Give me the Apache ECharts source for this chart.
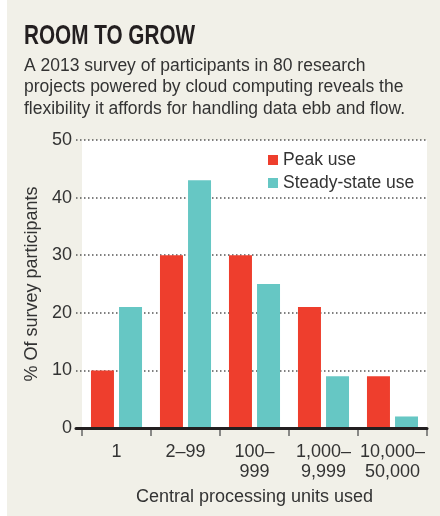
<!DOCTYPE html>
<html><head><meta charset="utf-8">
<script src="https://cdn.jsdelivr.net/npm/echarts@6/dist/echarts.min.js"></script>
<style>
html,body{margin:0;padding:0;background:#fff;}
#c{width:440px;height:516px;background:linear-gradient(to right,#fff 7px,#f1f0e8 7px);}
</style></head>
<body><div id="c"></div>
<script>
const categories = ['1', '2–99', '100–\n999', '1,000–\n9,999', '10,000–\n50,000'];
const peakUse = [10, 30, 30, 21, 9];
const steadyUse = [21, 43, 25, 9, 2];
const yTicks = [0, 10, 20, 30, 40, 50];
const titleText = 'ROOM TO GROW';
const subtitleText = 'A 2013 survey of participants in 80 research\nprojects powered by cloud computing reveals the\nflexibility it affords for handling data ebb and flow.';

const FONT = '"Liberation Sans", Arial, sans-serif';
const chart = echarts.init(document.getElementById('c'));
chart.setOption({
  backgroundColor: 'transparent',
  animation: false,
  textStyle: {fontFamily: FONT},
  graphic: [{
    type: 'text', left: 24, top: 22, scaleX: 0.74,
    style: {text: titleText, font: 'bold 28px "Liberation Sans", Arial, sans-serif', fill: '#231f20'}
  }],
  title: [{
    text: subtitleText,
    left: 19, top: 50,
    textStyle: {fontFamily: FONT, fontWeight: 'normal', fontSize: 17.5, color: '#333', lineHeight: 21.5}
  }],
  legend: {
    data: ['Peak use', 'Steady-state use'],
    orient: 'vertical', left: 263, top: 146,
    itemWidth: 10, itemHeight: 10, itemGap: 5, icon: 'rect',
    textStyle: {fontSize: 17.5, color: '#333', lineHeight: 17, fontFamily: FONT}
  },
  grid: [
    {left: 82, right: 13, top: 140, bottom: 88, show: true, backgroundColor: '#fff', borderWidth: 0},
    {left: 76, right: 13, top: 140, bottom: 88}
  ],
  xAxis: [
    {type: 'category', gridIndex: 0, data: categories,
     axisLine: {show: false},
     axisTick: {show: true, length: 8, lineStyle: {color: '#666', width: 1.5}},
     axisLabel: {interval: 0, fontSize: 18, color: '#333', lineHeight: 20, margin: 14, verticalAlign: 'top', fontFamily: FONT},
     name: 'Central processing units used', nameLocation: 'middle', nameGap: 60,
     nameTextStyle: {fontSize: 18, color: '#333', lineHeight: 18, fontFamily: FONT}},
    {type: 'value', gridIndex: 1, min: 0, max: 1, z: 5,
     axisLine: {show: true, lineStyle: {color: '#231f20', width: 3}},
     axisTick: {show: false}, axisLabel: {show: false}, splitLine: {show: false}}
  ],
  yAxis: [
    {type: 'value', gridIndex: 0, min: 0, max: 50, interval: 10,
     axisLine: {show: false}, axisTick: {show: false}, axisLabel: {show: false}, splitLine: {show: false}},
    {type: 'value', gridIndex: 1, min: 0, max: 50, interval: 10,
     axisLine: {show: false}, axisTick: {show: false},
     axisLabel: {fontSize: 18, color: '#333', margin: 4, fontFamily: FONT,
       formatter: v => yTicks.includes(v) ? String(v) : ''},
     splitLine: {show: true, lineStyle: {color: '#555', type: [1.5, 2.5], width: 1.5}},
     name: '% Of survey participants', nameLocation: 'middle', nameGap: 23,
     nameTextStyle: {fontSize: 18, color: '#333', fontFamily: FONT}}
  ],
  series: [
    {name: 'Peak use', type: 'bar', xAxisIndex: 0, yAxisIndex: 0, data: peakUse,
     barWidth: 23, barGap: '22%', itemStyle: {color: '#ee3e2d'}},
    {name: 'Steady-state use', type: 'bar', xAxisIndex: 0, yAxisIndex: 0, data: steadyUse,
     barWidth: 23, barGap: '22%', itemStyle: {color: '#66c7c4'}}
  ]
});
</script></body></html>
